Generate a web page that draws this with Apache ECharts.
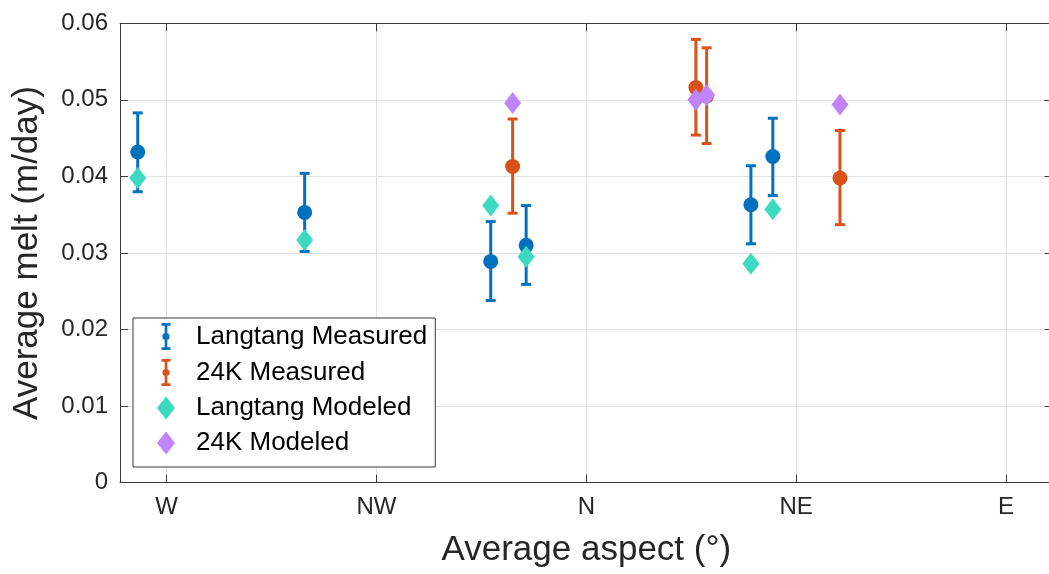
<!DOCTYPE html>
<html>
<head>
<meta charset="utf-8">
<script src="https://cdn.jsdelivr.net/npm/echarts@6/dist/echarts.min.js"></script>
<style>html,body{margin:0;padding:0;background:#fff;}#c{width:1049px;height:574px;}</style>
</head>
<body>
<div id="c"></div>
<script>
// ---- data ----
var aspectTicks = [270, 315, 360, 405, 450];
var aspectTickLabels = ['W', 'NW', 'N', 'NE', 'E'];
var meltTicks = [0, 0.01, 0.02, 0.03, 0.04, 0.05, 0.06];

var langtangAspect = [263.8, 299.6, 339.5, 347.1, 395.3, 400.0];
var langtangMeasured = [0.0432, 0.0353, 0.0289, 0.0310, 0.0363, 0.0426];
var langtangLow = [0.0380, 0.0302, 0.0238, 0.0259, 0.0312, 0.0375];
var langtangHigh = [0.0483, 0.0404, 0.0341, 0.0362, 0.0414, 0.0476];
var langtangModeled = [0.0398, 0.0317, 0.0362, 0.0295, 0.0286, 0.0357];

var k24Aspect = [344.2, 383.5, 385.8, 414.4];
var k24Measured = [0.0413, 0.0516, 0.0505, 0.0398];
var k24Low = [0.0352, 0.0454, 0.0443, 0.0337];
var k24High = [0.0475, 0.0579, 0.0568, 0.0460];
var k24Modeled = [0.0496, 0.0500, 0.0506, 0.0494];

// ---- styles ----
var BLUE = '#0072BD', ORANGE = '#D95319', TEAL = '#3DD9C1', PURPLE = '#C084FC';
var FONT = '"Liberation Sans", Arial, Helvetica, sans-serif';
var AXIS = '#3a3a3a';
var ICON_ERR = 'path://M0,0H10V3H0Z M3.5,0H6.5V30H3.5Z M0,27H10V30H0Z M9,15A4,4,0,1,1,1,15A4,4,0,1,1,9,15Z';
var ICON_DIA = 'path://M9,0L18,11.5L9,23L0,11.5Z';

function zip(a, b) { return a.map(function (v, i) { return [v, b[i]]; }); }
function zip3(a, b, c) { return a.map(function (v, i) { return [v, b[i], c[i]]; }); }

function errRender(color) {
  return function (params, api) {
    var x = api.value(0), lo = api.value(1), hi = api.value(2);
    var pHi = api.coord([x, hi]), pLo = api.coord([x, lo]);
    var h = 5;
    var st = { stroke: color, lineWidth: 3, fill: null };
    return {
      type: 'group',
      children: [
        { type: 'line', shape: { x1: pHi[0], y1: pHi[1], x2: pLo[0], y2: pLo[1] }, style: st },
        { type: 'line', shape: { x1: pHi[0] - h, y1: pHi[1], x2: pHi[0] + h, y2: pHi[1] }, style: st },
        { type: 'line', shape: { x1: pLo[0] - h, y1: pLo[1], x2: pLo[0] + h, y2: pLo[1] }, style: st }
      ]
    };
  };
}

var chart = echarts.init(document.getElementById('c'), null, { renderer: 'canvas' });
var tickLabelStyle = { fontFamily: FONT, fontSize: 24, color: '#262626' };

chart.setOption({
  animation: false,
  backgroundColor: '#fff',
  grid: { left: 120, top: 23.3, width: 932.6, height: 459.4, containLabel: false, outerBoundsMode: 'none' },
  xAxis: [{
    type: 'value', min: 260, max: 460, position: 'bottom',
    name: 'Average aspect (°)', nameLocation: 'middle', nameGap: 50,
    nameTextStyle: { fontFamily: FONT, fontSize: 35, color: '#262626' },
    axisLine: { show: true, onZero: false, lineStyle: { color: AXIS, width: 1 } },
    axisTick: { show: true, inside: true, length: 8, customValues: aspectTicks, lineStyle: { color: AXIS } },
    axisLabel: Object.assign({ margin: 13, customValues: aspectTicks,
      formatter: function (v) { var i = aspectTicks.indexOf(v); return i >= 0 ? aspectTickLabels[i] : ''; } }, tickLabelStyle),
    splitLine: { show: true, lineStyle: { color: '#e2e2e2', width: 1 } }
  }, {
    type: 'value', min: 260, max: 460, position: 'top',
    axisLine: { show: true, onZero: false, lineStyle: { color: AXIS, width: 1 } },
    axisTick: { show: true, inside: true, length: 8, customValues: aspectTicks, lineStyle: { color: AXIS } },
    axisLabel: { show: false, customValues: aspectTicks },
    splitLine: { show: false }
  }],
  yAxis: [{
    type: 'value', min: 0, max: 0.06, interval: 0.01, position: 'left',
    name: 'Average melt (m/day)', nameLocation: 'middle', nameGap: 75,
    nameTextStyle: { fontFamily: FONT, fontSize: 35, color: '#262626' },
    axisLine: { show: true, onZero: false, lineStyle: { color: AXIS, width: 1 } },
    axisTick: { show: true, inside: true, length: 8, lineStyle: { color: AXIS } },
    axisLabel: Object.assign({ margin: 12,
      formatter: function (v) { return v === 0 ? '0' : v.toFixed(2); } }, tickLabelStyle),
    splitLine: { show: true, lineStyle: { color: '#e2e2e2', width: 1 } }
  }, {
    type: 'value', min: 0, max: 0.06, interval: 0.01, position: 'right',
    axisLine: { show: true, onZero: false, lineStyle: { color: AXIS, width: 1 } },
    axisTick: { show: true, inside: true, length: 8, lineStyle: { color: AXIS } },
    axisLabel: { show: false },
    splitLine: { show: false }
  }],
  legend: {
    orient: 'vertical', left: 133, top: 318,
    align: 'left',
    padding: [5, 8, 11, 24],
    itemGap: 9, itemWidth: 18, itemHeight: 27,
    symbolKeepAspect: true,
    backgroundColor: '#fff', borderColor: '#3a3a3a', borderWidth: 1, borderRadius: 0,
    textStyle: { fontFamily: FONT, fontSize: 26, color: '#000', padding: [0, 0, 0, 16] },
    selectedMode: false,
    data: [
      { name: 'Langtang Measured', icon: ICON_ERR },
      { name: '24K Measured', icon: ICON_ERR },
      { name: 'Langtang Modeled', icon: ICON_DIA },
      { name: '24K Modeled', icon: ICON_DIA }
    ]
  },
  series: [
    { name: 'Langtang Measured', type: 'custom', renderItem: errRender(BLUE),
      itemStyle: { color: BLUE }, encode: { x: 0, y: [1, 2] },
      data: zip3(langtangAspect, langtangLow, langtangHigh), z: 2 },
    { name: 'Langtang Measured', type: 'scatter', symbol: 'circle', symbolSize: 15,
      itemStyle: { color: BLUE, opacity: 1 }, data: zip(langtangAspect, langtangMeasured), z: 3 },
    { name: '24K Measured', type: 'custom', renderItem: errRender(ORANGE),
      itemStyle: { color: ORANGE }, encode: { x: 0, y: [1, 2] },
      data: zip3(k24Aspect, k24Low, k24High), z: 4 },
    { name: '24K Measured', type: 'scatter', symbol: 'circle', symbolSize: 15,
      itemStyle: { color: ORANGE, opacity: 1 }, data: zip(k24Aspect, k24Measured), z: 5 },
    { name: 'Langtang Modeled', type: 'scatter', symbol: 'diamond', symbolSize: [17, 22],
      itemStyle: { color: TEAL, opacity: 1 }, data: zip(langtangAspect, langtangModeled), z: 6 },
    { name: '24K Modeled', type: 'scatter', symbol: 'diamond', symbolSize: [17, 22],
      itemStyle: { color: PURPLE, opacity: 1 }, data: zip(k24Aspect, k24Modeled), z: 7 }
  ]
});
</script>
</body>
</html>
